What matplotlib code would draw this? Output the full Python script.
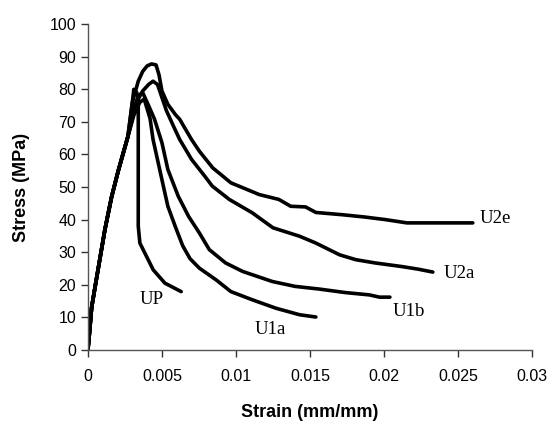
import matplotlib
matplotlib.use('Agg')
import matplotlib.pyplot as plt

# shared loading branch (all specimens nearly overlap)
rise_x = [0, 0.0001, 0.00025, 0.00047, 0.00081, 0.00115, 0.0016, 0.00205, 0.0027]
rise_y = [0, 5, 13, 19, 28, 37, 47, 55, 65.5]

up_x = rise_x + [0.0030, 0.0031, 0.0033, 0.0034, 0.0034, 0.0034, 0.00351, 0.00385, 0.00441, 0.0052, 0.0063]
up_y = rise_y + [76, 80, 79, 77, 60, 38, 32.8, 29.7, 24.6, 20.5, 17.9]

u1a_x = rise_x + [0.0031, 0.0035, 0.0038, 0.0042, 0.0044, 0.00475, 0.0051, 0.0054, 0.0059, 0.0064,
                  0.0069, 0.00753, 0.00866, 0.00966, 0.0111, 0.0127, 0.0143, 0.0154]
u1a_y = rise_y + [72, 76, 77, 71, 64.6, 57.4, 50.2, 44.1, 37.9, 32.0,
                  28.0, 25.1, 21.5, 17.9, 15.4, 12.8, 10.8, 10.1]

u1b_x = rise_x + [0.0031, 0.0034, 0.0037, 0.0041, 0.0045, 0.005, 0.0054, 0.0061, 0.0068, 0.00753,
                  0.0082, 0.0093, 0.01045, 0.01246, 0.014, 0.0156, 0.0174, 0.019, 0.0197, 0.0204]
u1b_y = rise_y + [74, 78, 79, 75, 70.8, 63.6, 55.4, 47.2, 41.0, 35.9,
                  30.8, 26.7, 24.1, 21.0, 19.5, 18.7, 17.6, 16.9, 16.2, 16.2]

u2a_x = rise_x + [0.0031, 0.0034, 0.0037, 0.0041, 0.0044, 0.0047, 0.0050, 0.0053, 0.0058, 0.0062, 0.007,
                  0.0079, 0.0084, 0.00955, 0.0111, 0.0125, 0.0143, 0.0154, 0.017, 0.0181, 0.0194,
                  0.0212, 0.0223, 0.0233]
u2a_y = rise_y + [73, 77, 79.5, 81.5, 82.5, 81.5, 77.5, 73.5, 68.5, 64.6, 58.5,
                  53.3, 50.3, 46.2, 42.1, 37.5, 34.9, 32.8, 29.2, 27.7, 26.7,
                  25.6, 24.8, 23.9]

u2e_x = rise_x + [0.003, 0.0034, 0.0037, 0.004, 0.0043, 0.0046, 0.0048, 0.0050, 0.0054, 0.0059,
                  0.0062, 0.007, 0.00753, 0.00843, 0.00966, 0.01157, 0.0129, 0.0137, 0.0147, 0.0154,
                  0.0172, 0.0187, 0.0201, 0.02155, 0.026]
u2e_y = rise_y + [76, 82.5, 85.5, 87.2, 87.8, 87.5, 84.5, 79.5, 75.4, 72.3,
                  70.8, 64.6, 61.0, 55.9, 51.3, 47.7, 46.2, 44.1, 43.9, 42.2,
                  41.5, 40.8, 40.0, 39.0, 39.0]

curves = [(up_x, up_y), (u1a_x, u1a_y), (u1b_x, u1b_y), (u2a_x, u2a_y), (u2e_x, u2e_y)]
names = ['UP', 'U1a', 'U1b', 'U2a', 'U2e']
label_x = [0.0043, 0.01235, 0.02165, 0.0251, 0.0275]
label_y = [15.4, 6.2, 11.8, 23.6, 40.5]

x_ticks = [0, 0.005, 0.01, 0.015, 0.02, 0.025, 0.03]
x_ticklabels = ['0', '0.005', '0.01', '0.015', '0.02', '0.025', '0.03']
y_ticks = list(range(0, 101, 10))

plt.rcParams['font.family'] = ['Liberation Sans', 'DejaVu Sans']

fig = plt.figure(figsize=(5.53, 4.32), dpi=100)
ax = fig.add_axes([0.159, 0.19, 0.803, 0.754])

for x, y in curves:
    ax.plot(x, y, color='black', lw=2.6, solid_joinstyle='round', solid_capstyle='round')

for n, lx, ly in zip(names, label_x, label_y):
    ax.text(lx, ly, n, fontsize=13.5, family=['Liberation Serif'], ha='center', va='center')

ax.set_xlim(0, 0.03)
ax.set_ylim(0, 100)
ax.set_xticks(x_ticks)
ax.set_xticklabels(x_ticklabels)
ax.set_yticks(y_ticks)
ax.tick_params(direction='out', length=5, width=1, labelsize=11.5, color='#333333')
ax.tick_params(axis='x', pad=9)
for s in ['top', 'right']:
    ax.spines[s].set_visible(False)
for s in ['left', 'bottom']:
    ax.spines[s].set_color('#555555')
    ax.spines[s].set_linewidth(1)

ax.set_xlabel('Strain (mm/mm)', fontsize=13, fontweight='bold', labelpad=14)
ax.set_ylabel('Stress (MPa)', fontsize=13, fontweight='bold', labelpad=14)

fig.savefig('out.png', dpi=100)
